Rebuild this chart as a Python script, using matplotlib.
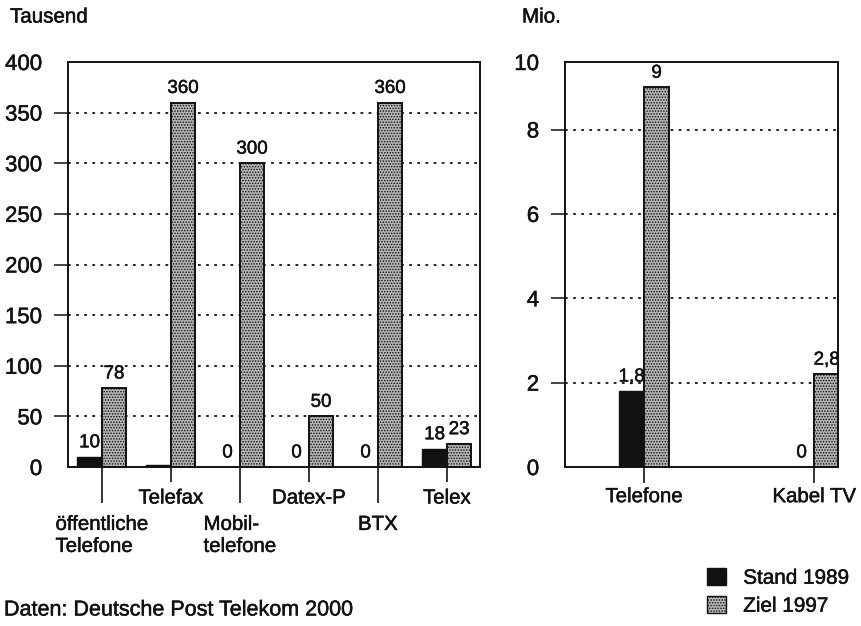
import matplotlib
matplotlib.use('Agg')
import matplotlib.pyplot as plt
import matplotlib.patheffects as pe
from matplotlib.patches import Patch
from matplotlib.text import Text
import numpy as np

plt.rcParams['font.family'] = ['Liberation Sans', 'DejaVu Sans']
plt.rcParams['hatch.linewidth'] = 0.7

# data, left panel (Tausend)
cats_left = ['öffentliche\nTelefone', 'Telefax', 'Mobil-\ntelefone', 'Datex-P', 'BTX', 'Telex']
stand_left = [10, 2, 0, 0, 0, 18]
ziel_left = [78, 360, 300, 50, 360, 23]
stand_left_lbl = ['10', '', '0', '0', '0', '18']
ziel_left_lbl = ['78', '360', '300', '50', '360', '23']
yticks_left = [0, 50, 100, 150, 200, 250, 300, 350, 400]

# data, right panel (Mio.)
cats_right = ['Telefone', 'Kabel TV']
stand_right = [1.8, 0]
ziel_right = [9, 2.2]
stand_right_lbl = ['1,8', '0']
ziel_right_lbl = ['9', '2,8']
yticks_right = [0, 2, 4, 6, 8, 9.6]
yticklabels_right = ['0', '2', '4', '6', '8', '10']

BLACK = '#111111'
GREY = '#b4b4b4'

fig = plt.figure(figsize=(8.62, 6.26), dpi=100)
ax1 = fig.add_axes([68/862, 1-467/626, 412/862, 405/626])
ax2 = fig.add_axes([565/862, 1-467/626, 273/862, 405/626])


def style_axes(ax, yticks, ylabels):
    ax.set_axisbelow(True)
    for s in ax.spines.values():
        s.set_linewidth(1.4)
        s.set_color(BLACK)
    ax.set_yticks(yticks, ylabels)
    ax.set_ylim(yticks[0], yticks[-1])
    ax.tick_params(axis='y', length=10, width=1.1, pad=8.6, labelsize=16, colors=BLACK)
    ax.grid(axis='y', color=BLACK, linestyle=(0, (1.5, 3)), linewidth=1.3)
    ticks = ax.yaxis.get_major_ticks()
    for t in (ticks[0], ticks[-1]):
        t.tick1line.set_visible(False)
        t.gridline.set_visible(False)


w = 0.355
x = np.arange(len(cats_left))
b1 = ax1.bar(x - w/2, stand_left, w, color=BLACK, edgecolor=BLACK, linewidth=1)
b2 = ax1.bar(x + w/2, ziel_left, w, color=GREY, edgecolor=BLACK, linewidth=1.4, hatch='......')
ax1.bar_label(b1, stand_left_lbl, padding=4, fontsize=13.5)
ax1.bar_label(b2, ziel_left_lbl, padding=4, fontsize=13.5)
ax1.set_xlim(-0.49, 5.48)
style_axes(ax1, yticks_left, [str(v) for v in yticks_left])

# staggered category labels: long ticks (minor) and short ticks (major)
ax1.set_xticks(x[1::2], cats_left[1::2])
ax1.set_xticks(x[0::2], cats_left[0::2], minor=True)
ax1.tick_params(axis='x', which='major', length=11, width=1.1, pad=4.5, labelsize=14.7)
ax1.tick_params(axis='x', which='minor', length=26, width=1.1, pad=8.5, labelsize=14.7)
for lbl in ax1.get_xticklabels(minor=True):
    lbl.set_multialignment('left')

w2 = 0.147
x2 = np.arange(len(cats_right))
c1 = ax2.bar(x2 - w2/2, stand_right, w2, color=BLACK, edgecolor=BLACK, linewidth=1)
c2 = ax2.bar(x2 + w2/2, ziel_right, w2, color=GREY, edgecolor=BLACK, linewidth=1.4, hatch='......')
ax2.bar_label(c1, stand_right_lbl, padding=4, fontsize=13.5)
ax2.bar_label(c2, ziel_right_lbl, padding=4, fontsize=13.5)
ax2.set_xlim(-0.465, 1.14)
style_axes(ax2, yticks_right, yticklabels_right)
ax2.set_xticks(x2, cats_right)
ax2.tick_params(axis='x', length=11.5, width=1.1, pad=3, labelsize=14.7)

fig.text(10/862, 1-17/626, 'Tausend', fontsize=14.8, va='center')
fig.text(522/862, 1-17/626, 'Mio.', fontsize=14.8, va='center')
fig.text(4/862, 1-610/626, 'Daten: Deutsche Post Telekom 2000', fontsize=15.5, va='center')

handles = [Patch(facecolor=BLACK, edgecolor=BLACK),
           Patch(facecolor=GREY, edgecolor=BLACK, hatch='......')]
fig.legend(handles, ['Stand 1989', 'Ziel 1997'], loc='upper left',
           bbox_to_anchor=(707/862, 1-568/626), frameon=False, fontsize=14.9,
           handlelength=0.9, handleheight=0.9, handletextpad=0.85,
           labelspacing=0.4, borderpad=0, borderaxespad=0)

# print-like slightly heavier text
for t in fig.findobj(Text):
    t.set_color(BLACK)
    t.set_path_effects([pe.withStroke(linewidth=0.35, foreground=BLACK)])

fig.savefig('out.png', dpi=100)
